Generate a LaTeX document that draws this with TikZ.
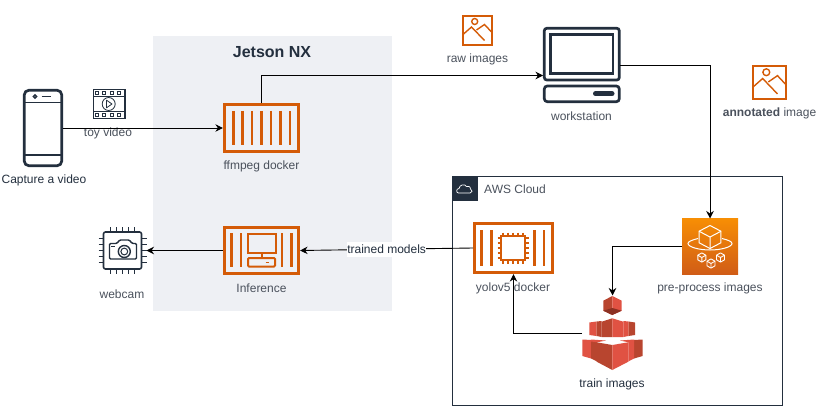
\documentclass[tikz,border=0pt]{standalone}
\usepackage{fontspec}
\setmainfont{Liberation Sans}
\usetikzlibrary{arrows.meta,calc,positioning}
\definecolor{awsink}{HTML}{232F3E}
\definecolor{labelink}{HTML}{4A515C}
\definecolor{awsorange}{HTML}{D45B07}
\definecolor{jetsonbg}{HTML}{EEF0F4}
\definecolor{redlight}{HTML}{E05243}
\definecolor{redmid}{HTML}{B8452F}
\definecolor{reddark}{HTML}{8C3123}
\definecolor{boxtop}{HTML}{F78E04}
\definecolor{boxbottom}{HTML}{D05C17}
\tikzset{
  link/.style={draw=black,line width=0.9pt,-{Stealth[length=7.5pt,width=7.5pt]}},
  caption/.style={font=\fontsize{12}{14}\selectfont,text=labelink,inner sep=0pt},
  iconbox/.style={inner sep=0pt,outer sep=0pt},
  dockerbox/.style={draw=awsorange,line width=2.7pt,inner sep=0pt,minimum width=74.5pt,minimum height=46.5pt},
  bar/.style={draw=awsorange,line width=2.7pt},
  orangeline/.style={draw=awsorange,line width=1.4pt},
  inkline/.style={draw=awsink,line width=2.7pt},
  thinink/.style={draw=awsink,line width=1.1pt},
  pics/photo/.style={code={
    \draw[orangeline] (-14.5,-14.5) rectangle (14.5,14.5);
    \draw[orangeline] (-2.8,-9) circle (3);
    \draw[orangeline] (-14.5,4) -- (-6,-3.5) -- (7,10);
    \draw[orangeline] (-1,-0.5) -- (7,-6) -- (14.5,2);
  }},
  pics/isocube/.style={code={
    \draw[white,line width=#1,line join=round] (0,-1) -- (0.87,-0.5) -- (0.87,0.5) -- (0,1) -- (-0.87,0.5) -- (-0.87,-0.5) -- cycle;
    \draw[white,line width=#1,line join=round] (-0.87,-0.5) -- (0,0) -- (0.87,-0.5) (0,0) -- (0,1);
  }},
}
\begin{document}
\begin{tikzpicture}[x=1pt,y=-1pt]
  \useasboundingbox (0,0) rectangle (816,406);
  % Jetson area
  \fill[jetsonbg] (153,36) rectangle (392,311);
  \node[font=\fontsize{16}{18}\selectfont\bfseries,text=awsink,inner sep=0pt] (jetson) at (272,52) {Jetson NX};
  % AWS area
  \draw[awsink,line width=0.9pt] (452.5,176) rectangle (782,405);
  \node[iconbox,fill=awsink,minimum width=25pt,minimum height=25pt] (awshead) at (465,188.5) {};
  \draw[white,line width=0.7pt,line join=round] (458.5,193) .. controls (456,193) and (456,188.5) .. (459,188.5)
    .. controls (459.5,184.5) and (465,183.5) .. (466.5,186.5) .. controls (470,185.5) and (471,188.5) .. (470.5,189)
    .. controls (473,190) and (472.5,193) .. (470,193) -- cycle;
  \node[caption,anchor=west] (awstitle) at (484,189) {AWS Cloud};

  % Phone
  \node[iconbox,minimum width=40pt,minimum height=78pt] (phone) at (43,128) {};
  \draw[inkline,rounded corners=4.5pt] (24.3,90.3) rectangle (61.7,165.7);
  \draw[inkline,line width=1.8pt] (24,102.5) -- (62,102.5) (24,155) -- (62,155);
  \draw[inkline,line width=1.3pt] (35,96.5) circle (1.6);
  \draw[inkline,line width=1.5pt] (41.5,96.5) -- (51,96.5);
  \node[caption,text=awsink] (phonetext) at (44,180) {Capture a video};

  % Video clip
  \node[iconbox,minimum width=32pt,minimum height=30pt] (clip) at (109,104) {};
  \draw[thinink] (93.5,89.5) rectangle (125,118.5);
  \draw[thinink,line width=0.7pt] (93.5,96.7) -- (125,96.7) (93.5,111.3) -- (125,111.3);
  \foreach \x in {97,104,111.7,119}{
    \draw[thinink,line width=0.7pt] (\x-1.3,91.8) rectangle (\x+1.3,94.4);
    \draw[thinink,line width=0.7pt] (\x-1.3,113.6) rectangle (\x+1.3,116.2);
  }
  \draw[thinink,line width=0.8pt] (108.7,104) circle (6.5);
  \draw[thinink,line width=0.8pt,line join=round] (106.5,100.2) -- (112,104) -- (106.5,107.8) -- cycle;
  \node[caption] (cliptext) at (108,133) {toy video};

  % ffmpeg docker
  \node[dockerbox] (ffmpeg) at (261.5,128) {};
  \foreach \x in {233.3,242.7,252,261.7,271,280.3,290}
    \draw[bar] (\x,111) -- (\x,145);
  \node[caption] (ffmpegtext) at (261.5,166) {ffmpeg docker};

  % Inference
  \node[dockerbox] (inference) at (261.5,250.5) {};
  \foreach \x in {231.7,241,282,291.5}
    \draw[bar] (\x,233) -- (\x,267);
  \draw[orangeline,line width=2pt] (248,233.5) rectangle (276,253);
  \draw[orangeline,line width=2pt] (261.7,253) -- (261.7,257.5);
  \draw[orangeline,line width=2pt,rounded corners=1pt] (248,258) rectangle (275,266.5);
  \draw[orangeline,line width=1.6pt] (265.5,262.3) -- (269,262.3);
  \node[caption] (inferencetext) at (261.5,288.5) {Inference};

  % Webcam
  \node[iconbox,minimum width=48pt,minimum height=48pt] (webcam) at (122.5,250.5) {};
  \draw[inkline,line width=1.6pt,rounded corners=2pt] (103.5,232) rectangle (141.5,269);
  \foreach \a in {0,...,4}{
    \draw[thinink] (110.5+6*\a,227) -- (110.5+6*\a,232) (110.5+6*\a,269) -- (110.5+6*\a,274);
    \draw[thinink] (98.5,238.5+6*\a) -- (103.5,238.5+6*\a) (141.5,238.5+6*\a) -- (146.5,238.5+6*\a);
  }
  \draw[thinink,line width=1.4pt,line join=round,rounded corners=1.2pt] (109.5,243.5) -- (117,243.5) -- (119.5,240) -- (129.5,240) -- (132,243.5) -- (136.5,243.5) -- (136.5,259) -- (109.5,259) -- cycle;
  \draw[thinink,line width=1.4pt] (124.3,251.5) circle (6);
  \draw[thinink,line width=1pt] (124.3,251.5) circle (3.4);
  \draw[thinink] (111,246.5) -- (114.5,246.5);
  \node[caption] (webcamtext) at (122,294) {webcam};

  % Workstation
  \node[iconbox,minimum width=77pt,minimum height=76pt] (workstation) at (581.5,65) {};
  \draw[inkline,rounded corners=2.5pt] (544.3,28.3) rectangle (619.3,80);
  \draw[inkline] (550.5,34.5) rectangle (613,73.5);
  \draw[inkline,rounded corners=3pt] (544.3,86) rectangle (619.3,101.7);
  \draw[inkline,line width=5pt,line cap=round] (595.5,93.8) -- (612,93.8);
  \node[caption] (workstationtext) at (581.5,116) {workstation};
  \coordinate (wsin) at (543,75.5);

  % Image icons
  \node[iconbox,minimum width=29pt,minimum height=29pt] (rawicon) at (477.5,30.5) {};
  \pic at (rawicon) {photo};
  \node[caption] (rawtext) at (477.5,59) {raw images};
  \node[iconbox,minimum width=33pt,minimum height=33pt] (annoticon) at (769.5,82.5) {};
  \pic[scale=1.14] at (annoticon) {photo};
  \node[caption] (annottext) at (769.5,113) {\textbf{annotated} image};

  % Pre-process
  \node[iconbox,minimum width=56pt,minimum height=56pt,top color=boxtop,bottom color=boxbottom] (preproc) at (710,246.5) {};
  \draw[white,line width=1pt] (698,238.5) .. controls (692,240) and (688,241.5) .. (688,243.5)
    .. controls (688,247) and (699,250) .. (710,250) .. controls (721,250) and (732,247) .. (732,243.5)
    .. controls (732,241.5) and (728,240) .. (722,238.5);
  \pic[xscale=12.6,yscale=11.5] at (710,237) {isocube=1pt};
  \foreach \p in {(701.8,257.5),(711,263.5),(720.5,257.5)}
    \pic[scale=4.6] at \p {isocube=0.9pt};
  \node[caption] (preproctext) at (710,288) {pre-process images};

  % Train images
  \node[iconbox,minimum width=61pt,minimum height=75pt] (train) at (612.5,333) {};
  \fill[redmid] (612.3,296) -- (603.3,300.7) -- (603.3,310.7) -- (612.3,315) -- cycle;
  \fill[redlight] (612.3,296) -- (621.7,300.7) -- (621.7,310.7) -- (612.3,315) -- cycle;
  \fill[reddark] (603.3,310.7) -- (612.3,308) -- (621.7,310.7) -- (612.3,315) -- cycle;
  % middle row
  \fill[redlight] (589.3,322.5) -- (596.5,321.5) -- (596.5,336) -- (589.3,335) -- cycle;
  \fill[redmid] (596.5,321.5) -- (601.7,321) -- (601.7,337) -- (596.5,336) -- cycle;
  \fill[redlight] (623.3,321) -- (628.5,321.5) -- (628.5,336) -- (623.3,337) -- cycle;
  \fill[redmid] (628.5,321.5) -- (635,322.5) -- (635,335) -- (628.5,336) -- cycle;
  \fill[redmid] (601.7,321.7) -- (612.3,318.3) -- (612.3,337) -- (601.7,337) -- cycle;
  \fill[redlight] (623.3,321.7) -- (612.3,318.3) -- (612.3,337) -- (623.3,337) -- cycle;
  % bottom row
  \fill[redlight] (582.3,339.5) -- (591,340) -- (591,358.5) -- (582.3,356) -- cycle;
  \fill[redmid] (591,340) -- (597,341) -- (597,361.5) -- (591,358.5) -- cycle;
  \fill[redlight] (591,339.5) -- (606,340.5) -- (597,342.3) -- (591,341.5) -- cycle;
  \fill[redmid] (634,340) -- (642.7,339.5) -- (642.7,356) -- (634,358.5) -- cycle;
  \fill[redlight] (628.3,341) -- (634,340) -- (634,358.5) -- (628.3,361.5) -- cycle;
  \fill[redlight] (634,339.5) -- (620,340.5) -- (628.3,342.3) -- (634,341.5) -- cycle;
  \fill[redmid] (596.7,342.3) -- (612.3,345) -- (612.3,370) -- (596.7,361.7) -- cycle;
  \fill[redlight] (628.3,342.3) -- (612.3,345) -- (612.3,370) -- (628.3,361.7) -- cycle;
  \node[caption,text=awsink] (traintext) at (612,384) {train images};

  % yolov5 docker
  \node[dockerbox,minimum width=78pt,minimum height=49.5pt] (yolo) at (513.5,248) {};
  \foreach \x in {481.7,491.7,534.3,544}
    \draw[bar] (\x,230) -- (\x,266);
  \draw[bar] (501,236) rectangle (525,260);
  \foreach \a in {0,...,4}{
    \draw[orangeline,line width=1.8pt] (503+5*\a,232.5) -- (503+5*\a,236) (503+5*\a,260) -- (503+5*\a,263.5);
    \draw[orangeline,line width=1.8pt] (497.5,238+5*\a) -- (501,238+5*\a) (525,238+5*\a) -- (528.5,238+5*\a);
  }
  \node[caption] (yolotext) at (513,288) {yolov5 docker};

  % Connectors
  \draw[link] (phone.east) -- (ffmpeg.west);
  \draw[link] (ffmpeg.north) |- (wsin);
  \draw[link] (workstation.east) -| (preproc.north);
  \draw[link] (preproc.west) -| (train.north);
  \draw[link] (train.west) -| (yolo.south);
  \draw[link] (yolo.west) -- node[caption,text=awsink,fill=white,inner xsep=0.5pt,inner ysep=3pt] (modelstext) {trained models} (inference.east);
  \draw[link] (inference.west) -- (webcam.east);
\end{tikzpicture}
\end{document}
